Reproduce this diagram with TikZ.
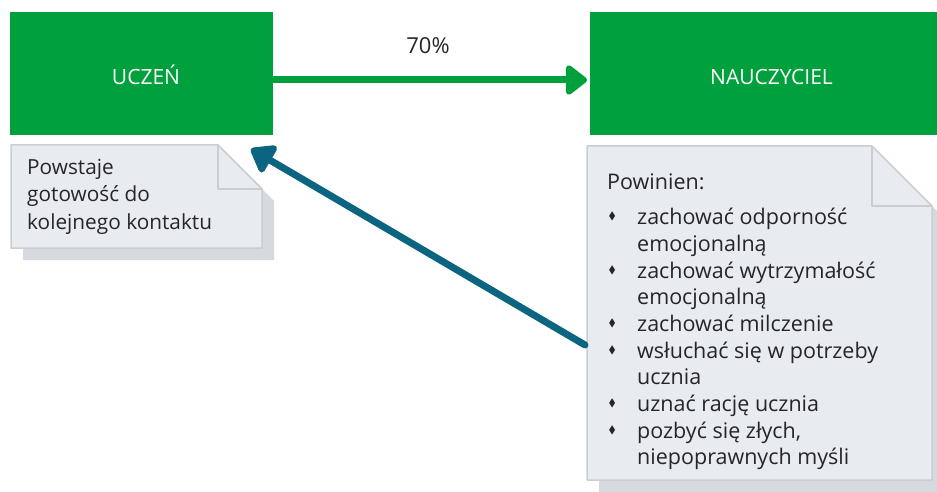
\documentclass[tikz,border=0pt]{standalone}
\usepackage{fontspec}
\setmainfont{Open Sans}
\usepackage{amssymb}
\usetikzlibrary{arrows.meta}

\definecolor{zielony}{HTML}{00A03C}
\definecolor{morski}{HTML}{0B6580}
\definecolor{kartka}{HTML}{E8ECF0}
\definecolor{krawedz}{HTML}{C9CED4}
\definecolor{cien}{HTML}{D6DADF}

\tikzstyle{rolebox}=[rectangle,
                     fill=zielony,
                     inner sep=0pt,
                     minimum height=123pt]
\tikzstyle{rolename}=[anchor=base,
                      inner sep=0pt,
                      text=white,
                      font=\fontsize{21}{24}\selectfont]
\tikzstyle{notetext}=[anchor=north west,
                      inner sep=0pt,
                      align=left,
                      text=black!85]

% kartka z zagietym rogiem: x1, y1, x2, y2, rog
\newcommand{\notka}[5]{
    \fill[cien] (#1+12,#2+12) -- (#3-#5+12,#2+12) -- (#3+12,#2+#5+12)
        -- (#3+12,#4+12) -- (#1+12,#4+12) -- cycle;
    \filldraw[fill=kartka, draw=krawedz, line width=1.5pt, line join=round]
        (#1,#2) -- (#3-#5,#2) -- (#3,#2+#5) -- (#3,#4) -- (#1,#4) -- cycle;
    \draw[krawedz, line width=1.5pt, line join=round]
        (#3-#5,#2) -- (#3-#5,#2+#5) -- (#3,#2+#5);
}
\newcommand{\pkt}{\makebox[30pt][l]{\hspace{1.5pt}\raisebox{5pt}{\scalebox{0.5}{$\blacklozenge$}}}}
\newcommand{\dal}{\hspace{30pt}}

\begin{document}
\begin{tikzpicture}[x=1pt, y=-1pt]
    \useasboundingbox (0,0) rectangle (937,492);
    \clip (0,0) rectangle (937,492);

    \node [rolebox, minimum width=263pt] (uczen) at (141.5,73.5) {};
    \node [rolebox, minimum width=349pt] (nauczyciel) at (764.5,73.5) {};
    \node [rolename] (ulabel) at (146,85) {UCZEŃ};
    \node [rolename] (nlabel) at (771.5,85) {NAUCZYCIEL};

    \notka{11}{145}{262}{248}{44}
    \notka{587}{146}{932}{480}{60}

    \node [notetext, font=\fontsize{20.8}{27.5}\selectfont] (gotowosc) at (27,159)
        {Powstaje\\gotowość do\\kolejnego kontaktu};

    \node [notetext, font=\fontsize{21.5}{26.7}\selectfont] (powinien) at (607,174)
        {Powinien:\\[8pt]
        \pkt zachować odporność\\
        \dal emocjonalną\\
        \pkt zachować wytrzymałość\\
        \dal emocjonalną\\
        \pkt zachować milczenie\\
        \pkt wsłuchać się w potrzeby\\
        \dal ucznia\\
        \pkt uznać rację ucznia\\
        \pkt pozbyć się złych,\\
        \dal niepoprawnych myśli};

    \coordinate (g1) at (274,80);
    \coordinate (g2) at (587,80);
    \draw [zielony, line width=7pt, line cap=round,
           -{Triangle[length=23pt, width=34pt, round]}] (g1) -- (g2);
    \node [anchor=base, inner sep=0pt, text=black!85,
           font=\fontsize{22}{26}\selectfont] (procent) at (428,54) {70\%};

    \coordinate (b1) at (585,345);
    \coordinate (b2) at (251,149);
    \draw [morski, line width=7pt, line cap=round,
           -{Triangle[length=25pt, width=35pt, round]}] (b1) -- (b2);
\end{tikzpicture}
\end{document}
